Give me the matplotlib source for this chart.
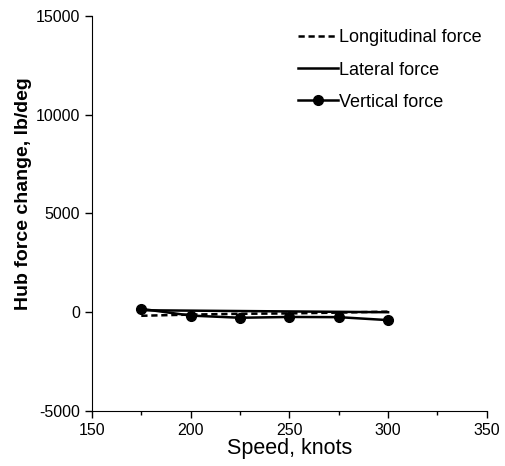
import matplotlib
matplotlib.use("Agg")
import matplotlib.pyplot as plt
from matplotlib.ticker import MultipleLocator

plt.rcParams['font.family'] = ['Liberation Sans', 'DejaVu Sans']
plt.rcParams['axes.unicode_minus'] = False

speed = [175, 200, 225, 250, 275, 300]
longitudinal = [-180, -120, -80, -60, -20, 30]
lateral = [100, 80, 60, 40, 20, 0]
vertical = [170, -170, -280, -240, -250, -400]

fig = plt.figure(figsize=(5.05, 4.66), dpi=100)
ax = fig.add_axes([0.182, 0.118, 0.782, 0.848])

ax.plot(speed, longitudinal, color='black', lw=1.8, ls=(0, (2.5, 1.5)), label='Longitudinal force')
ax.plot(speed, lateral, color='black', lw=1.8, ls='-', label='Lateral force')
ax.plot(speed, vertical, color='black', lw=1.8, marker='o', ms=7, label='Vertical force')

ax.set_xlim(150, 350)
ax.set_ylim(-5000, 15000)
ax.xaxis.set_major_locator(MultipleLocator(50))
ax.xaxis.set_minor_locator(MultipleLocator(25))
ax.yaxis.set_major_locator(MultipleLocator(5000))
ax.spines['top'].set_visible(False)
ax.spines['right'].set_visible(False)
ax.tick_params(direction='out', length=5, width=1, labelsize=11.5)
ax.tick_params(which='minor', direction='out', length=3, width=1)

ax.set_xlabel('Speed, knots', fontsize=15.5, labelpad=0)
ax.set_ylabel('Hub force change, lb/deg', fontsize=14, fontweight='bold')
ax.yaxis.set_label_coords(-0.152, 0.55)

leg = fig.legend(*ax.get_legend_handles_labels(), loc='upper left', frameon=False,
                 fontsize=13, handlelength=2.2, handletextpad=0.1, labelspacing=0.84,
                 borderpad=0, borderaxespad=0, bbox_to_anchor=(0.590, 0.937))

fig.savefig('out.png', dpi=100)
